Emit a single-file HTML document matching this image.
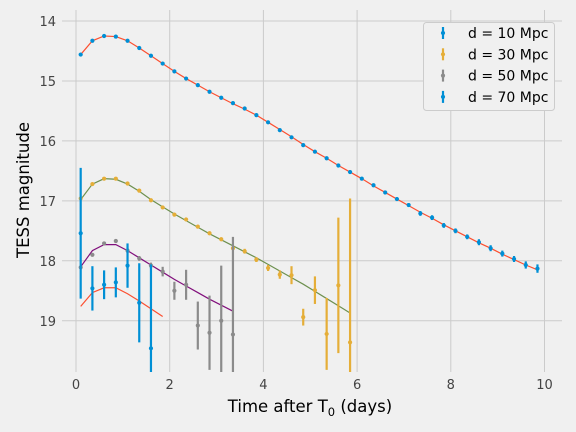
<!DOCTYPE html>
<html><head><meta charset="utf-8"><style>
html,body{margin:0;padding:0;background:#f0f0f0;width:576px;height:432px;overflow:hidden;}
svg{display:block;font-family:"DejaVu Sans","Liberation Sans",sans-serif;}
</style></head><body>
<svg id="chart" width="576" height="432" viewBox="0 0 576 432">
<rect width="576" height="432" fill="#f0f0f0"/>
<g id="grid"></g>
<g id="ticks"></g>
<g id="series"></g>
<text x="310" y="412" font-size="16.5" fill="#000" text-anchor="middle">Time after T<tspan font-size="11.5" dy="4">0</tspan><tspan dy="-4"> (days)</tspan></text>
<text transform="translate(29,190) rotate(-90)" font-size="16.5" fill="#000" text-anchor="middle">TESS magnitude</text>
<g id="legend"></g>
</svg>
<script>
const t10 = [0.1,0.35,0.6,0.85,1.1,1.35,1.6,1.85,2.1,2.35,2.6,2.85,3.1,3.35,3.6,3.85,4.1,4.35,4.6,4.85,5.1,5.35,5.6,5.85,6.1,6.35,6.6,6.85,7.1,7.35,7.6,7.85,8.1,8.35,8.6,8.85,9.1,9.35,9.6,9.85];
const mag10 = [14.56,14.33,14.25,14.26,14.33,14.45,14.58,14.71,14.84,14.96,15.07,15.18,15.28,15.37,15.46,15.57,15.69,15.82,15.94,16.07,16.18,16.29,16.41,16.52,16.63,16.74,16.86,16.97,17.07,17.21,17.28,17.41,17.50,17.60,17.69,17.79,17.88,17.97,18.07,18.13];
const err10 = [0.02,0.02,0.02,0.02,0.02,0.02,0.02,0.02,0.02,0.02,0.02,0.02,0.02,0.02,0.02,0.02,0.02,0.02,0.02,0.02,0.03,0.03,0.03,0.03,0.03,0.03,0.03,0.03,0.03,0.04,0.04,0.04,0.04,0.04,0.05,0.05,0.05,0.05,0.06,0.07];
const model10 = [14.56,14.33,14.25,14.26,14.33,14.45,14.58,14.71,14.84,14.96,15.07,15.18,15.28,15.38,15.47,15.57,15.69,15.81,15.93,16.06,16.18,16.29,16.41,16.52,16.63,16.75,16.86,16.97,17.08,17.19,17.29,17.40,17.50,17.60,17.70,17.79,17.89,17.98,18.07,18.15];
const t30 = t10.slice(0,24);
const mag30 = [16.96,16.72,16.63,16.63,16.71,16.83,16.99,17.11,17.23,17.31,17.43,17.54,17.64,17.79,17.84,17.98,18.12,18.23,18.24,18.94,18.49,19.22,18.41,19.36];
const err30 = [0.02,0.02,0.02,0.02,0.02,0.02,0.02,0.02,0.02,0.02,0.02,0.03,0.03,0.03,0.04,0.04,0.05,0.07,0.15,0.14,0.23,0.6,1.13,2.4];
const model30 = [16.98,16.72,16.63,16.64,16.72,16.84,16.98,17.10,17.22,17.33,17.44,17.55,17.65,17.75,17.85,17.95,18.06,18.17,18.28,18.39,18.51,18.63,18.75,18.87];
const t50 = t10.slice(0,14);
const mag50 = [18.11,17.90,17.71,17.67,17.83,17.96,18.08,18.18,18.50,18.40,19.08,19.20,19.00,19.23];
const err50 = [0.02,0.03,0.03,0.03,0.04,0.04,0.05,0.08,0.15,0.25,0.4,0.62,0.92,1.63];
const model50 = [18.10,17.83,17.73,17.73,17.83,17.95,18.07,18.19,18.31,18.42,18.53,18.64,18.74,18.84];
const t70 = t10.slice(0,7);
const mag70 = [17.54,18.46,18.40,18.36,18.08,18.70,19.46];
const err70 = [1.09,0.37,0.24,0.25,0.37,0.66,1.4];
const tModel70 = t10.slice(0,8);
const model70 = [18.76,18.53,18.45,18.45,18.55,18.67,18.80,18.93];
const xTicks = [0,2,4,6,8,10];
const yTicks = [14,15,16,17,18,19];
const legendLabels = ["d = 10 Mpc","d = 30 Mpc","d = 50 Mpc","d = 70 Mpc"];

const NS="http://www.w3.org/2000/svg";
const L=62,R=562,T=10,B=372;
const x=v=>76+v*46.85;
const y=v=>21+(v-14)*59.95;
function mk(tag,attrs,parent){const e=document.createElementNS(NS,tag);for(const k in attrs)e.setAttribute(k,attrs[k]);parent.appendChild(e);return e;}
const grid=document.getElementById('grid'),ticks=document.getElementById('ticks'),series=document.getElementById('series'),legend=document.getElementById('legend');
xTicks.forEach(v=>{
  const g=mk('line',{x1:x(v),x2:x(v),y1:T,y2:B,stroke:'#cbcbcb','stroke-width':1},grid);
  
  
  const tx=mk('text',{x:x(v),y:B+17,'font-size':13,'text-anchor':'middle',fill:'#444'},ticks);
  tx.textContent=v;
  
  
});
yTicks.forEach(v=>{
  const g=mk('line',{x1:L,x2:R,y1:y(v),y2:y(v),stroke:'#cbcbcb','stroke-width':1},grid);
  
  
  const tx=mk('text',{x:56,y:y(v)+5,'font-size':13,'text-anchor':'end',fill:'#444'},ticks);
  tx.textContent=v;
  
  
});
const clip=mk('clipPath',{id:'pc'},document.getElementById('chart'));
mk('rect',{x:L,y:T,width:R-L,height:B-T},clip);
series.setAttribute('clip-path','url(#pc)');
function line(ts,ms,color,name){
  const p=mk('polyline',{points:ts.map((t,i)=>x(t)+','+y(ms[i])).join(' '),fill:'none',stroke:color,'stroke-width':1.2},series);
  
  
}
function errs(ts,ms,es,color,name){
  ts.forEach((t,i)=>{
    const l=mk('line',{x1:x(t),x2:x(t),y1:y(ms[i]-es[i]),y2:y(ms[i]+es[i]),stroke:color,'stroke-width':2.2},series);
    
    
    const c=mk('circle',{cx:x(t),cy:y(ms[i]),r:2.1,fill:color},series);
    
    
  });
}
line(t10,model10,'#fc4f30','model-d10');
line(t30,model30,'#6d904f','model-d30');
line(t50,model50,'#810f7c','model-d50');
line(tModel70,model70,'#fc4f30','model-d70');
errs(t10,mag10,err10,'#008fd5','d10');
errs(t30,mag30,err30,'#e5ae38','d30');
errs(t50,mag50,err50,'#8b8b8b','d50');
errs(t70,mag70,err70,'#008fd5','d70');
const lb=mk('rect',{x:423.5,y:22.5,width:131,height:88,rx:3,fill:'#f0f0f0',stroke:'#cccccc','stroke-width':1},legend);


const lc=['#008fd5','#e5ae38','#8b8b8b','#008fd5'];
legendLabels.forEach((s,i)=>{
  const cy=33+i*21.3;
  const l=mk('line',{x1:443,x2:443,y1:cy-6,y2:cy+6,stroke:lc[i],'stroke-width':2.2},legend);
  
  
  const c=mk('circle',{cx:443,cy:cy,r:2.1,fill:lc[i]},legend);
  
  
  const tx=mk('text',{x:468,y:cy+5,'font-size':14,fill:'#000'},legend);
  tx.textContent=s;
  
  
});
</script>
</body></html>
